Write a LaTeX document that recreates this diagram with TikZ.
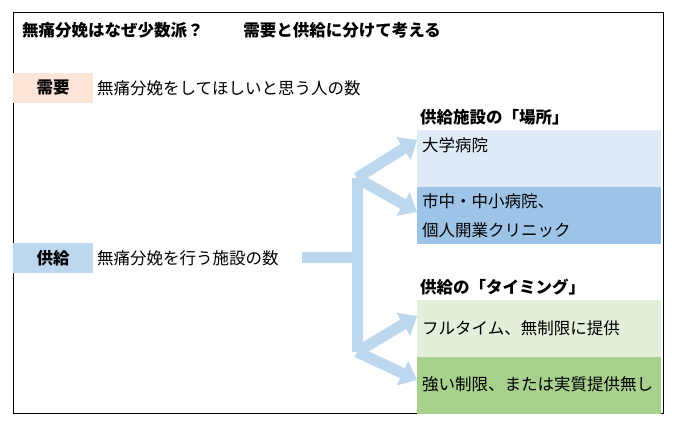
\documentclass[tikz,border=0pt]{standalone}
\usepackage{fontspec}
\setmainfont{Noto Sans CJK JP}
\usetikzlibrary{arrows.meta}
\definecolor{peach}{RGB}{252,228,214}
\definecolor{paleblue}{RGB}{189,215,238}
\definecolor{lightblue}{RGB}{222,235,247}
\definecolor{midblue}{RGB}{157,195,230}
\definecolor{lightgreen}{RGB}{226,239,218}
\definecolor{midgreen}{RGB}{169,209,142}
\tikzset{
  label/.style={anchor=west, inner sep=0pt, font=\fontsize{16.5}{18}\selectfont},
  head/.style={label, font=\fontsize{16.5}{18}\selectfont\bfseries},
  tag/.style={minimum width=80pt, minimum height=30pt, inner sep=0pt, font=\fontsize{16.5}{18}\selectfont\bfseries},
  cell/.style={anchor=north west, minimum width=244pt, minimum height=57pt, inner sep=0pt},
  flow/.style={paleblue, line width=11pt, -{Triangle[length=16pt,width=26pt]}}
}
\begin{document}
\begin{tikzpicture}[x=1pt,y=-1pt]
\useasboundingbox (0,0) rectangle (675,427);
\draw[fill=white] (13,12) rectangle (663,413);
\node[head] (title) at (22,30) {無痛分娩はなぜ少数派？\hspace{2.4em}需要と供給に分けて考える};
% demand
\node[tag, fill=peach] (demand) at (53,88) {需要};
\node[label] (demandtxt) at (97,88) {無痛分娩をしてほしいと思う人の数};
% supply
\node[tag, fill=paleblue] (supply) at (53,258) {供給};
\node[label] (supplytxt) at (97,258) {無痛分娩を行う施設の数};
% right side
\node[head] (place) at (420,117) {供給施設の「場所」};
\node[cell, fill=lightblue] (univ) at (417,130) {};
\node[cell, fill=midblue] (city) at (417,187) {};
\node[label] at (422,145) {大学病院};
\node[label] at (422,201) {市中・中小病院、};
\node[label] at (422,230) {個人開業クリニック};
\node[head] (timing) at (420,287) {供給の「タイミング」};
\node[cell, fill=lightgreen] (full) at (417,300) {};
\node[cell, fill=midgreen] (limit) at (417,357) {};
\node[label] at (422,328) {フルタイム、無制限に提供};
\node[label] at (422,384) {強い制限、または実質提供無し};
% arrows
\coordinate (start) at (302,258);
\coordinate (bend) at (357,258);
\coordinate (top) at (357,178);
\coordinate (bot) at (357,352);
\draw[paleblue, line width=11pt] (start) -- (bend);
\draw[paleblue, line width=11pt] (top) -- (bot);
\draw[flow] (top) -- (univ.west |- 0,140);
\draw[flow] (top) -- (city.west |- 0,212);
\draw[flow] (bot) -- (full.west |- 0,316);
\draw[flow] (bot) -- (limit.west |- 0,380);
\end{tikzpicture}
\end{document}
